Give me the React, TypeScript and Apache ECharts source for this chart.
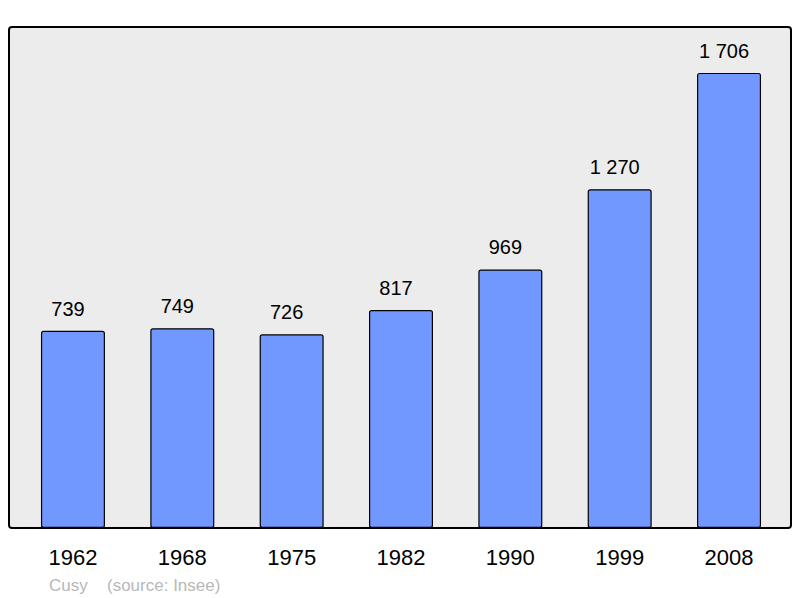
import React, { useEffect, useRef } from "react";
import * as echarts from "echarts";

const years = ["1962", "1968", "1975", "1982", "1990", "1999", "2008"];
const population = [739, 749, 726, 817, 969, 1270, 1706];
const townName = "Cusy";
const sourceText = "(source: Insee)";

const fmt = (v: number) => String(v).replace(/\B(?=(\d{3})+(?!\d))/g, " ");

export default function App() {
  const ref = useRef<HTMLDivElement>(null);
  useEffect(() => {
    if (!ref.current) return;
    const chart = echarts.init(ref.current, undefined, { renderer: "svg" });
    const font = "'Liberation Sans', Arial, sans-serif";
    chart.setOption({
      animation: false,
      backgroundColor: "#ffffff",
      grid: { left: 18.3, right: 16.3, top: 27, bottom: 70, containLabel: false },
      xAxis: {
        type: "category",
        data: years,
        axisLine: { show: false },
        axisTick: { show: false },
        axisLabel: { fontSize: 22, color: "#000", fontFamily: font, margin: 18 },
      },
      yAxis: { type: "value", min: 0, max: 1878, show: false, splitLine: { show: false } },
      graphic: [
        {
          type: "rect",
          z: -10,
          shape: { x: 9, y: 27, width: 782, height: 501, r: 3 },
          style: { fill: "#ececec", stroke: "#000", lineWidth: 2 },
        },
        {
          type: "text",
          x: 49,
          y: 577,
          style: { text: townName, fontSize: 17, fill: "#b8b8b8", fontFamily: font },
        },
        {
          type: "text",
          x: 107,
          y: 577,
          style: { text: sourceText, fontSize: 17, fill: "#b8b8b8", fontFamily: font },
        },
      ],
      series: [
        {
          type: "bar",
          data: population,
          barWidth: 64,
          itemStyle: { color: "#7098ff", borderColor: "#000", borderWidth: 1.2, borderRadius: 2 },
          label: {
            show: true,
            position: "top",
            distance: 12,
            offset: [-5, 0],
            fontSize: 20,
            color: "#000",
            fontFamily: font,
            formatter: (p: any) => fmt(p.value),
          },
        },
      ],
    });
    return () => chart.dispose();
  }, []);
  return <div ref={ref} style={{ width: 800, height: 598, position: "absolute", left: 0, top: 0 }} />;
}
